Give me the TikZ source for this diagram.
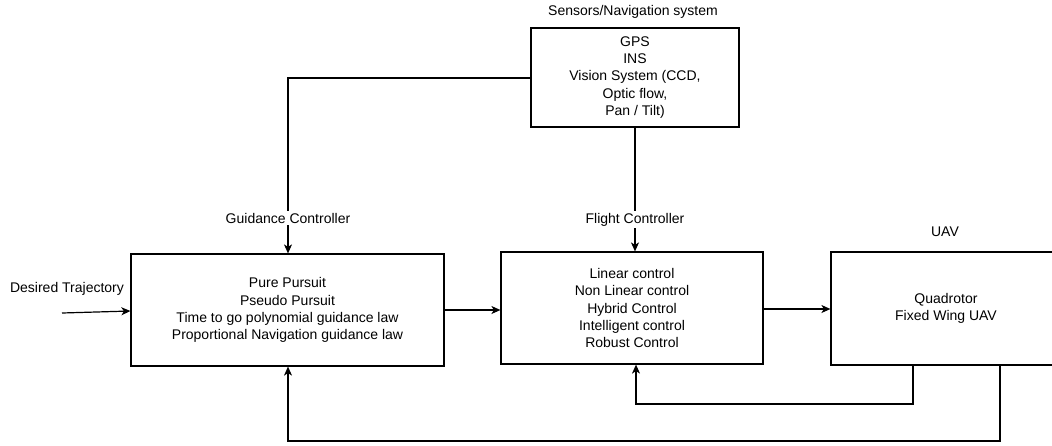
\documentclass[tikz,border=0pt]{standalone}
\usepackage{fontspec}
\setmainfont{Liberation Sans}
\usetikzlibrary{arrows.meta}
\begin{document}
\begin{tikzpicture}[x=1pt,y=-1pt,
  every node/.style={font=\fontsize{14}{17.2}\selectfont, inner sep=1pt},
  blk/.style={draw, line width=1.2pt, rectangle, align=center},
  lbl/.style={fill=white, inner sep=2pt},
  conn/.style={line width=1.2pt, -{Stealth[length=9pt,width=8pt,inset=2.5pt]}},
  plain/.style={line width=1.2pt}]
\clip (0,0) rectangle (1052,445);
\fill[white] (0,0) rectangle (1052,445);
% boxes
\node[blk, minimum width=208pt, minimum height=99pt] (sens) at (635,77.5)
  {GPS\\INS\\Vision System (CCD,\\Optic flow,\\Pan / Tilt)};
\node[blk, minimum width=313pt, minimum height=112pt] (guid) at (287.5,310)
  {Pure Pursuit\\Pseudo Pursuit\\Time to go polynomial guidance law\\Proportional Navigation guidance law};
\node[blk, minimum width=262pt, minimum height=112pt] (flight) at (632,308)
  {Linear control\\Non Linear control\\Hybrid Control\\Intelligent control\\Robust Control};
\node[blk, minimum width=230pt, minimum height=113pt] (uav) at (946,308.5)
  {Quadrotor\\Fixed Wing UAV};
% free labels
\node (tsens) at (633,12) {Sensors/Navigation system};
\node (tuav) at (945,232) {UAV};
\node (tdes) at (67,289) {Desired Trajectory};
\coordinate (din) at (62,313);
% connectors
\draw[conn] (din) -- (guid.west |- 0,311);
\draw[conn] (sens.west |- 0,78) -| (guid.north -| 288,0)
  node[lbl, pos=0.9] (tguid) {Guidance Controller};
\draw[conn] (sens.south -| 635,0) -- (flight.north -| 635,0)
  node[lbl, pos=0.745] (tflight) {Flight Controller};
\draw[conn] (guid.east |- 0,310) -- (flight.west |- 0,310);
\draw[conn] (flight.east |- 0,309) -- (uav.west |- 0,309);
\coordinate (fb1) at (913,404);
\coordinate (fb2) at (1000,441);
\draw[conn] (uav.south -| fb1) |- (fb1 -| 636,0) -- (flight.south -| 636,0);
\draw[conn] (uav.south -| fb2) |- (fb2 -| 288,0) -- (guid.south -| 288,0);
\end{tikzpicture}
\end{document}
